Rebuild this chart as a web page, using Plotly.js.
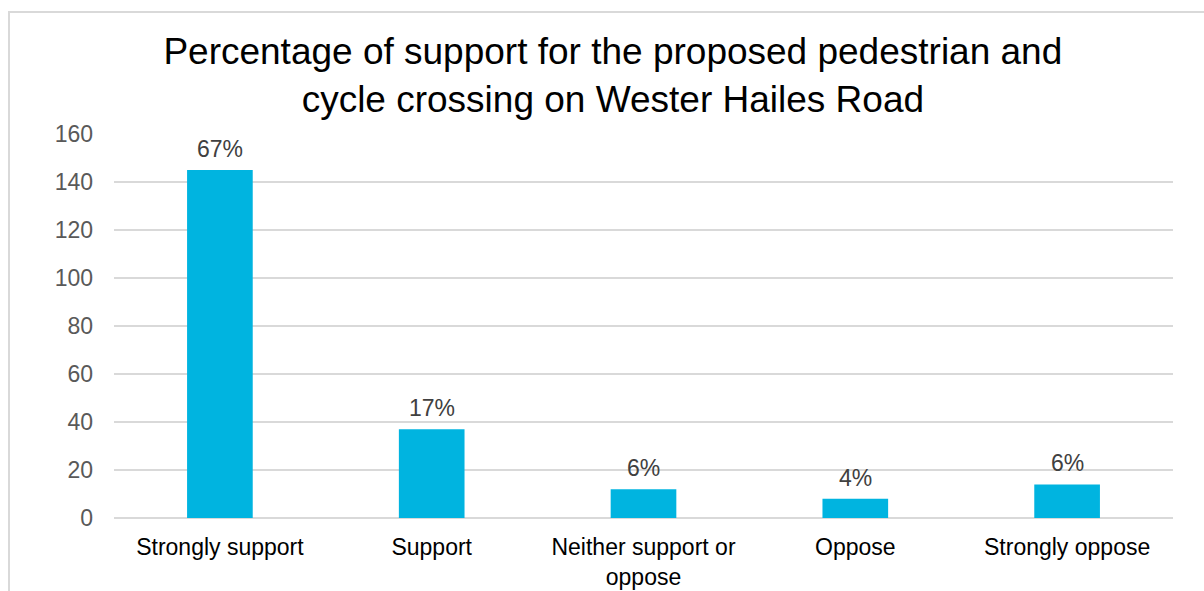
<!DOCTYPE html>
<html>
<head>
<meta charset="utf-8">
<script src="https://cdn.plot.ly/plotly-3.0.1.min.js"></script>
<style>
  html, body { margin: 0; padding: 0; background: #fff; }
  #wrap { position: relative; width: 1204px; height: 591px; overflow: hidden; }
  #chart { position: absolute; left: 0; top: 0; width: 1204px; height: 591px; }
  #frame { position: absolute; left: 8px; top: 11px; width: 1300px; height: 700px;
           border: 2px solid #d9d9d9; box-sizing: border-box; pointer-events: none; }
</style>
</head>
<body>
<div id="wrap">
  <div id="chart"></div>
  <div id="frame"></div>
</div>
<script>
const categories = ["Strongly support", "Support", "Neither support or<br>oppose", "Oppose", "Strongly oppose"];
const counts = [145, 37, 12, 8, 14];
const percentLabels = ["67%", "17%", "6%", "4%", "6%"];
const yTicks = [0, 20, 40, 60, 80, 100, 120, 140, 160];

const FONT = "Liberation Sans, Arial, sans-serif";

const trace = {
  type: "bar",
  x: categories,
  y: counts,
  marker: { color: "#00b4e0" },
  hoverinfo: "x+y"
};

const annotations = categories.map((c, i) => ({
  x: c, y: counts[i], xref: "x", yref: "y",
  text: percentLabels[i], showarrow: false,
  yanchor: "bottom", yshift: 6,
  font: { family: FONT, size: 23, color: "#404040" }
}));

const layout = {
  width: 1204, height: 591,
  margin: { l: 114, r: 31, t: 134, b: 73 },
  paper_bgcolor: "#ffffff", plot_bgcolor: "#ffffff",
  showlegend: false,
  bargap: 0.69,
  title: {
    text: "Percentage of support for the proposed pedestrian and<br>cycle crossing on Wester Hailes Road",
    font: { family: FONT, size: 37, color: "#000000" },
    x: 0.509, xanchor: "center",
    y: 1 - 64 / 591, yref: "container", yanchor: "middle"
  },
  xaxis: {
    type: "category",
    showgrid: false, zeroline: false, showline: false,
    ticks: "", ticklabelstandoff: 13,
    tickfont: { family: FONT, size: 23, color: "#000000" },
    fixedrange: true
  },
  yaxis: {
    range: [0, 160],
    tickvals: yTicks,
    ticktext: yTicks.map(String),
    showgrid: true, gridcolor: "#d9d9d9", gridwidth: 2,
    zeroline: true, zerolinecolor: "#d9d9d9", zerolinewidth: 2,
    showline: false, ticks: "", ticklabelstandoff: 20,
    tickfont: { family: FONT, size: 23, color: "#595959" },
    fixedrange: true
  },
  annotations: annotations
};

Plotly.newPlot("chart", [trace], layout, { displayModeBar: false, staticPlot: true });
</script>
</body>
</html>
